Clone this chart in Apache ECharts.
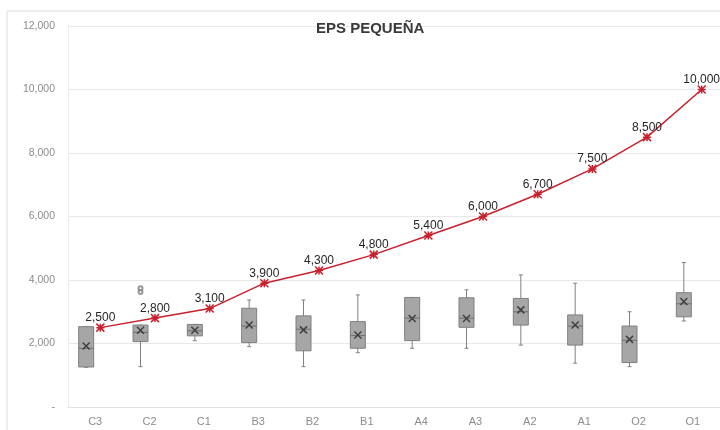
<!DOCTYPE html>
<html>
<head>
<meta charset="utf-8">
<script src="https://cdn.jsdelivr.net/npm/echarts@6/dist/echarts.min.js"></script>
<style>
  html, body { margin: 0; padding: 0; background: #fff; }
  #chart { width: 720px; height: 430px; }
</style>
</head>
<body>
<div id="chart"></div>
<script>
// categories and values
var categories = ['C3', 'C2', 'C1', 'B3', 'B2', 'B1', 'A4', 'A3', 'A2', 'A1', 'O2', 'O1'];
var lineValues = [2500, 2800, 3100, 3900, 4300, 4800, 5400, 6000, 6700, 7500, 8500, 10000];

var boxMin    = [1250, 1270, 2090, 1900, 1270, 1710, 1850, 1850, 1950, 1380, 1270, 2710];
var boxQ1     = [1260, 2060, 2240, 2030, 1770, 1850, 2090, 2510, 2580, 1950, 1400, 2840];
var boxMedian = [1850, 2350, 2400, 2550, 2450, 2250, 2800, 2800, 3000, 2550, 2100, 3250];
var boxQ3     = [2530, 2580, 2600, 3110, 2870, 2690, 3450, 3440, 3420, 2900, 2550, 3600];
var boxMax    = [2530, 2580, 2600, 3370, 3370, 3530, 3450, 3690, 4160, 3900, 3000, 4550];
var boxMean   = [1920, 2420, 2420, 2580, 2430, 2270, 2790, 2790, 3060, 2580, 2130, 3320];

var outliers = [['C2', 3620], ['C2', 3740]];

var yTicks = { min: 0, max: 12000, interval: 2000 };

var BOX_SHIFT = -9;
var BOX_HALF = 7.5;

var boxData = [];
for (var i = 0; i < categories.length; i++) {
    boxData.push([i, boxMin[i], boxQ1[i], boxMedian[i], boxQ3[i], boxMax[i], boxMean[i]]);
}
// the line sits on its own index axis, a little right of the boxes as in the picture
var lineData = lineValues.map(function (v, k) { return [k, v]; });

function fmt(v) {
    return v === 0 ? '-' : v.toLocaleString('en-US');
}

function renderBox(params, api) {
    var i = api.value(0);
    var lo = api.coord([i, api.value(1)]);
    var q1 = api.coord([i, api.value(2)]);
    var md = api.coord([i, api.value(3)]);
    var q3 = api.coord([i, api.value(4)]);
    var hi = api.coord([i, api.value(5)]);
    var mn = api.coord([i, api.value(6)]);
    var x = lo[0] + BOX_SHIFT;
    var hw = BOX_HALF;
    var ls = { stroke: '#808080', lineWidth: 1 };
    var xs = 3.5;
    return {
        type: 'group',
        children: [
            { type: 'line', shape: { x1: x, y1: hi[1], x2: x, y2: lo[1] }, style: ls },
            { type: 'line', shape: { x1: x - 2, y1: hi[1], x2: x + 2, y2: hi[1] }, style: ls },
            { type: 'line', shape: { x1: x - 2, y1: lo[1], x2: x + 2, y2: lo[1] }, style: ls },
            { type: 'rect', shape: { x: x - hw, y: q3[1], width: hw * 2, height: q1[1] - q3[1] },
              style: { fill: '#a6a6a6', stroke: '#7f7f7f', lineWidth: 1 } },
            { type: 'line', shape: { x1: x - hw, y1: md[1], x2: x + hw, y2: md[1] },
              style: { stroke: '#6e6e6e', lineWidth: 1 } },
            { type: 'line', shape: { x1: x - xs, y1: mn[1] - xs, x2: x + xs, y2: mn[1] + xs },
              style: { stroke: '#404040', lineWidth: 1.5 } },
            { type: 'line', shape: { x1: x - xs, y1: mn[1] + xs, x2: x + xs, y2: mn[1] - xs },
              style: { stroke: '#404040', lineWidth: 1.5 } }
        ]
    };
}

var chart = echarts.init(document.getElementById('chart'));

var option = {
    animation: false,
    backgroundColor: '#fff',
    title: {
        text: 'EPS PEQUEÑA',
        left: 311,
        top: 16,
        textStyle: { fontFamily: 'Liberation Sans', fontSize: 15, fontWeight: 'bold', color: '#3a3a3a' }
    },
    graphic: [{
        type: 'rect',
        shape: { x: 7, y: 11, width: 730, height: 440 },
        style: { fill: 'none', stroke: '#dcdcdc', lineWidth: 1 },
        silent: true
    }],
    grid: [
        { left: 68, right: 0, top: 26, bottom: 23 },
        { left: 73, right: 0, top: 26, bottom: 23 }
    ],
    xAxis: [{
        type: 'category',
        gridIndex: 0,
        data: categories,
        axisLine: { lineStyle: { color: '#e3e3e3' } },
        axisTick: { show: false },
        axisLabel: { color: '#8c8c8c', fontSize: 11, fontFamily: 'Liberation Sans', margin: 9 }
    }, {
        type: 'value',
        gridIndex: 1,
        min: -0.5,
        max: 11.335,
        show: false
    }],
    yAxis: [{
        type: 'value',
        gridIndex: 0,
        min: yTicks.min,
        max: yTicks.max,
        interval: yTicks.interval,
        axisLine: { show: true, lineStyle: { color: '#ececec' } },
        axisTick: { show: false },
        splitLine: { lineStyle: { color: '#e8e8e8' } },
        axisLabel: { color: '#8c8c8c', fontSize: 10.5, fontFamily: 'Liberation Sans', margin: 13, formatter: fmt }
    }, {
        type: 'value',
        gridIndex: 1,
        min: yTicks.min,
        max: yTicks.max,
        show: false
    }],
    series: [{
        type: 'custom',
        xAxisIndex: 0,
        yAxisIndex: 0,
        renderItem: renderBox,
        encode: { x: 0, y: [1, 2, 3, 4, 5, 6] },
        data: boxData,
        z: 2
    }, {
        type: 'scatter',
        xAxisIndex: 0,
        yAxisIndex: 0,
        symbol: 'emptyCircle',
        symbolSize: 4,
        symbolOffset: [BOX_SHIFT, 0],
        itemStyle: { color: '#7f7f7f' },
        data: outliers
    }, {
        type: 'line',
        xAxisIndex: 1,
        yAxisIndex: 1,
        data: lineData,
        z: 5,
        clip: false,
        lineStyle: { color: '#c8202c', width: 1.5 },
        symbol: 'path://M0,0L10,10M10,0L0,10M5,0L5,10M0,5L10,5',
        symbolSize: 8,
        itemStyle: { color: '#c8202c', borderColor: '#c8202c', borderWidth: 1.5 },
        label: {
            show: true,
            position: 'top',
            distance: -1,
            color: '#262626',
            fontSize: 12,
            fontFamily: 'Liberation Sans',
            formatter: function (p) { return fmt(p.value[1]); }
        }
    }]
};

chart.setOption(option);
</script>
</body>
</html>
